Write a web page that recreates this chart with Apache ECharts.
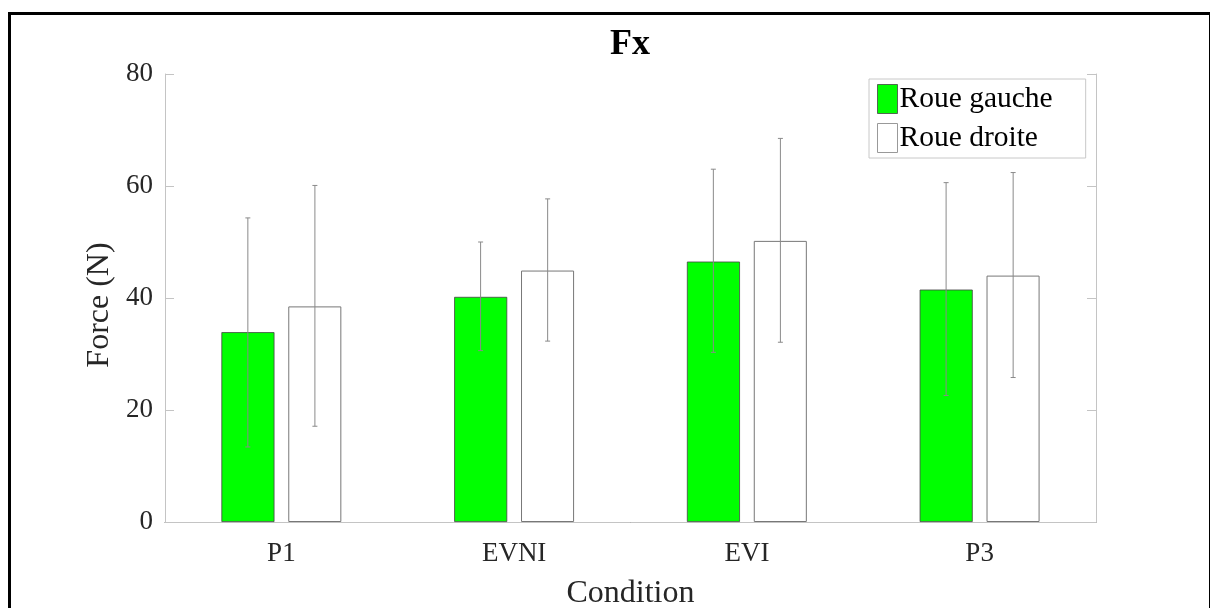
<!DOCTYPE html>
<html>
<head>
<meta charset="utf-8">
<script src="https://cdn.jsdelivr.net/npm/echarts@6/dist/echarts.min.js"></script>
<style>
html,body{margin:0;padding:0;background:#fff;}
#chart{width:1210px;height:608px;}
</style>
</head>
<body>
<div id="chart"></div>
<script>
const categories = ['P1', 'EVNI', 'EVI', 'P3'];
const seriesNames = ['Roue gauche', 'Roue droite'];
const gaucheMean = [33.9, 40.2, 46.5, 41.5];
const gaucheLow  = [13.4, 30.6, 30.3, 22.6];
const gaucheHigh = [54.3, 50.0, 63.0, 60.6];
const droiteMean = [38.5, 44.9, 50.2, 44.0];
const droiteLow  = [17.1, 32.3, 32.1, 25.8];
const droiteHigh = [60.1, 57.7, 68.5, 62.4];
const yTicks = [0, 20, 40, 60, 80];

const serif = '"Liberation Serif", "Times New Roman", serif';
const boxColor = '#c4c4c4';
const textColor = '#262626';

function errorSeries(low, high, side) {
  return {
    type: 'custom',
    silent: true,
    z: 5,
    data: categories.map((c, i) => [i, low[i], high[i]]),
    renderItem: function (params, api) {
      const i = api.value(0);
      const band = api.size([1, 0])[0];
      const off = side * band * 0.144;
      const pLow = api.coord([i, api.value(1)]);
      const pHigh = api.coord([i, api.value(2)]);
      const x = pLow[0] + off;
      const cap = 2.5;
      const st = { stroke: '#8a8a8a', lineWidth: 1 };
      return {
        type: 'group',
        children: [
          { type: 'line', shape: { x1: x, y1: pLow[1], x2: x, y2: pHigh[1] }, style: st },
          { type: 'line', shape: { x1: x - cap, y1: pLow[1], x2: x + cap, y2: pLow[1] }, style: st },
          { type: 'line', shape: { x1: x - cap, y1: pHigh[1], x2: x + cap, y2: pHigh[1] }, style: st }
        ]
      };
    }
  };
}

const chart = echarts.init(document.getElementById('chart'), null, { renderer: 'canvas' });
chart.setOption({
  animation: false,
  backgroundColor: '#ffffff',
  title: {
    text: 'Fx',
    left: 610,
    top: 27,
    padding: 0,
    textStyle: { fontFamily: serif, fontSize: 36, fontWeight: 'bold', color: '#000' }
  },
  legend: {
    orient: 'vertical',
    left: 869,
    top: 79,
    padding: [5, 33, 5, 8],
    itemGap: 9,
    itemWidth: 20,
    itemHeight: 29,
    borderColor: '#c8c8c8',
    borderWidth: 1,
    backgroundColor: '#fff',
    icon: 'rect',
    data: [
      { name: seriesNames[0], itemStyle: { color: '#00ff00', borderColor: '#444', borderWidth: 0.8 } },
      { name: seriesNames[1], itemStyle: { color: '#ffffff', borderColor: '#999', borderWidth: 1 } }
    ],
    textStyle: { fontFamily: serif, fontSize: 29.5, color: '#000', padding: [0, 0, 0, -3] }
  },
  grid: { left: 165, right: 114, top: 74, bottom: 86, containLabel: false, outerBoundsMode: 'none' },
  xAxis: [
    {
      type: 'category',
      data: categories,
      position: 'bottom',
      name: 'Condition',
      nameLocation: 'middle',
      nameGap: 56,
      nameTextStyle: { fontFamily: serif, fontSize: 32, color: textColor },
      axisLine: { lineStyle: { color: '#666', width: 1 } },
      axisTick: { inside: true, alignWithLabel: true, length: 9, lineStyle: { color: boxColor } },
      axisLabel: { fontFamily: serif, fontSize: 27, color: textColor, margin: 18 },
      splitLine: { show: false }
    },
    {
      type: 'category',
      data: categories,
      position: 'top',
      axisLine: { lineStyle: { color: boxColor, width: 1 } },
      axisTick: { inside: true, alignWithLabel: true, length: 9, lineStyle: { color: boxColor } },
      axisLabel: { show: false },
      splitLine: { show: false }
    }
  ],
  yAxis: [
    {
      type: 'value',
      min: 0,
      max: 80,
      interval: 20,
      position: 'left',
      name: 'Force (N)',
      nameLocation: 'middle',
      nameGap: 44,
      nameTextStyle: { fontFamily: serif, fontSize: 32, color: textColor, padding: [0, 14, 0, 0] },
      axisLine: { show: true, lineStyle: { color: boxColor, width: 1 } },
      axisTick: { show: true, inside: true, length: 9, lineStyle: { color: boxColor } },
      axisLabel: {
        fontFamily: serif, fontSize: 27, color: textColor, margin: 12,
        formatter: v => (yTicks.indexOf(v) >= 0 ? String(v) : '')
      },
      splitLine: { show: false }
    },
    {
      type: 'value',
      min: 0,
      max: 80,
      interval: 20,
      position: 'right',
      axisLine: { show: true, lineStyle: { color: boxColor, width: 1 } },
      axisTick: { show: true, inside: true, length: 9, lineStyle: { color: boxColor } },
      axisLabel: { show: false },
      splitLine: { show: false }
    }
  ],
  series: [
    {
      name: seriesNames[0],
      type: 'bar',
      data: gaucheMean,
      barWidth: '22.8%',
      barGap: '26%',
      itemStyle: { color: '#00ff00', borderColor: '#444', borderWidth: 0.8 },
      z: 2
    },
    {
      name: seriesNames[1],
      type: 'bar',
      data: droiteMean,
      barWidth: '22.8%',
      barGap: '26%',
      itemStyle: { color: '#ffffff', borderColor: '#777', borderWidth: 1 },
      z: 2
    },
    errorSeries(gaucheLow, gaucheHigh, -1),
    errorSeries(droiteLow, droiteHigh, 1)
  ],
  graphic: [
    {
      type: 'rect',
      left: 7,
      top: 11,
      shape: { width: 1201, height: 640 },
      style: { fill: 'none', stroke: '#000', lineWidth: 3 },
      silent: true,
      z: 100
    }
  ]
});
</script>
</body>
</html>
